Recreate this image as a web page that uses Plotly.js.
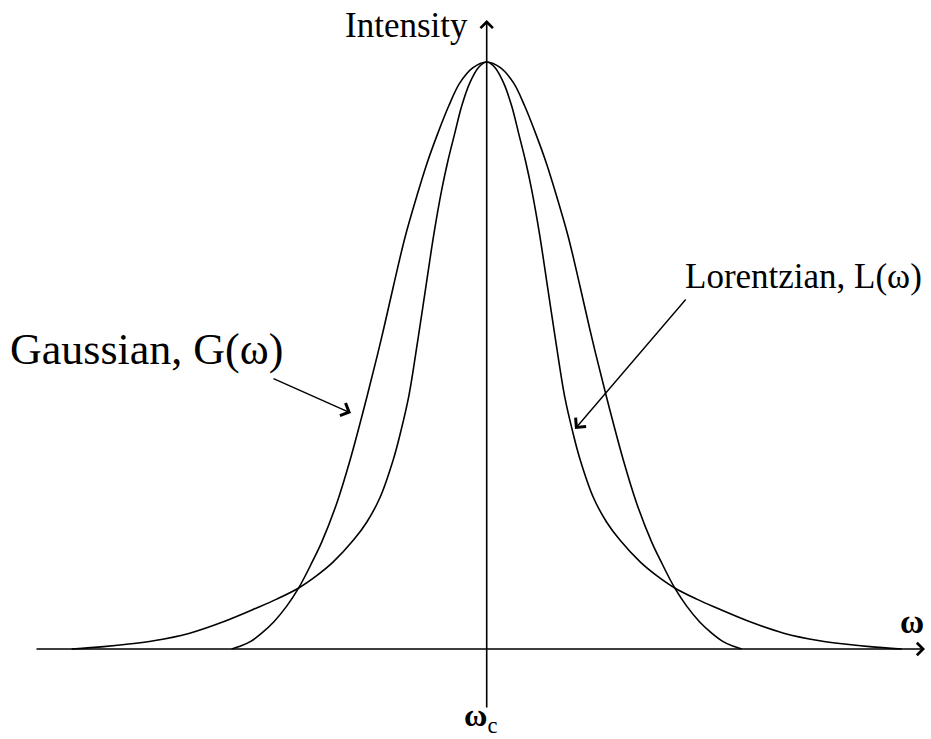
<!DOCTYPE html>
<html>
<head>
<meta charset="utf-8">
<script src="https://cdn.plot.ly/plotly-3.0.1.min.js"></script>
<style>html,body{margin:0;padding:0;background:#fff;}#chart{width:931px;height:739px;}</style>
</head>
<body>
<div id="chart"></div>
<script>
// Frequency offset (omega - omega_c, arbitrary units) and normalised intensity
// (half profiles, mirrored about omega_c)
const gaussHalfX = [0, 0.14, 0.27, 0.38, 0.49, 0.60, 0.70, 0.816, 0.933, 1.06, 1.20, 1.366, 1.50, 1.65, 1.74, 1.88, 2.00, 2.13, 2.25, 2.36, 2.46, 2.55];
const gaussHalfY = [1, 0.990, 0.964, 0.925, 0.878, 0.826, 0.771, 0.702, 0.618, 0.524, 0.428, 0.322, 0.248, 0.182, 0.150, 0.104, 0.073, 0.046, 0.027, 0.013, 0.005, 0];
const lorHalfX = [0, 0.08, 0.17, 0.25, 0.32, 0.39, 0.45, 0.53, 0.61, 0.69, 0.78, 0.86, 0.93, 1.067, 1.20, 1.33, 1.537, 1.70, 1.88, 2.10, 2.30, 2.64, 2.97, 3.33, 3.60, 3.83, 4.15];
const lorHalfY = [1, 0.991, 0.964, 0.925, 0.878, 0.830, 0.782, 0.705, 0.615, 0.525, 0.430, 0.370, 0.325, 0.258, 0.216, 0.186, 0.148, 0.125, 0.104, 0.085, 0.070, 0.046, 0.027, 0.014, 0.008, 0.004, 0];

const labelGauss = 'Gaussian, G(ω)';
const labelLor = 'Lorentzian, L(ω)';
const labelY = 'Intensity';
const labelX = 'ω';
const labelCenterMain = 'ω';
const labelCenterSub = 'c';

function mirror(hx, hy) {
  const x = [], y = [];
  for (let i = hx.length - 1; i > 0; i--) { x.push(-hx[i]); y.push(hy[i]); }
  for (let i = 0; i < hx.length; i++) { x.push(hx[i]); y.push(hy[i]); }
  return {x, y};
}
const gauss = mirror(gaussHalfX, gaussHalfY);
const lor = mirror(lorHalfX, lorHalfY);

const W = 931, H = 739;
const cx = 486.7, base = 649, pxPerX = 100, pxPerY = 587;
const X = p => (p - cx) / pxPerX;
const Y = p => (base - p) / pxPerY;

const font = 'Liberation Serif, Times New Roman, serif';
const lineStyle = {color: '#000', width: 1.6, shape: 'spline', smoothing: 1};

const traces = [
  {x: gauss.x, y: gauss.y, type: 'scatter', mode: 'lines', line: lineStyle, name: labelGauss, hoverinfo: 'skip'},
  {x: lor.x, y: lor.y, type: 'scatter', mode: 'lines', line: lineStyle, name: labelLor, hoverinfo: 'skip'}
];

function arrow(x0, y0, x1, y1, w, size) {
  return {x: X(x1), y: Y(y1), ax: X(x0), ay: Y(y0), xref: 'x', yref: 'y', axref: 'x', ayref: 'y',
    text: '', showarrow: true, arrowhead: 4, arrowwidth: w, arrowsize: size, arrowcolor: '#000', standoff: 0, startstandoff: 0};
}
function label(text, px, py, xanchor, size) {
  return {x: X(px), y: Y(py), xref: 'x', yref: 'y', text: text, showarrow: false, xanchor: xanchor, yanchor: 'middle',
    font: {family: font, size: size, color: '#000'}};
}

const layout = {
  width: W, height: H,
  margin: {l: 0, r: 0, t: 0, b: 0},
  paper_bgcolor: '#fff', plot_bgcolor: '#fff',
  showlegend: false,
  xaxis: {range: [X(0), X(W)], visible: false, fixedrange: true},
  yaxis: {range: [Y(H), Y(0)], visible: false, fixedrange: true},
  annotations: [
    arrow(35, 649, 925, 649, 1.6, 1.5),
    arrow(486.7, 709, 486.7, 20, 1.6, 1.5),
    arrow(272, 378, 351, 413, 1.4, 1.9),
    arrow(687, 298, 575, 429, 1.4, 1.9),
    label(labelY, 470, 25, 'right', 35),
    label(labelLor, 683, 276, 'left', 35),
    label(labelGauss, 8, 349, 'left', 44),
    label('<b>' + labelX + '</b>', 912, 622, 'center', 33),
    label('<b>' + labelCenterMain + '</b><sub>' + labelCenterSub + '</sub>', 480, 717, 'center', 32)
  ]
};

Plotly.newPlot('chart', traces, layout, {displayModeBar: false, staticPlot: true});
</script>
</body>
</html>
